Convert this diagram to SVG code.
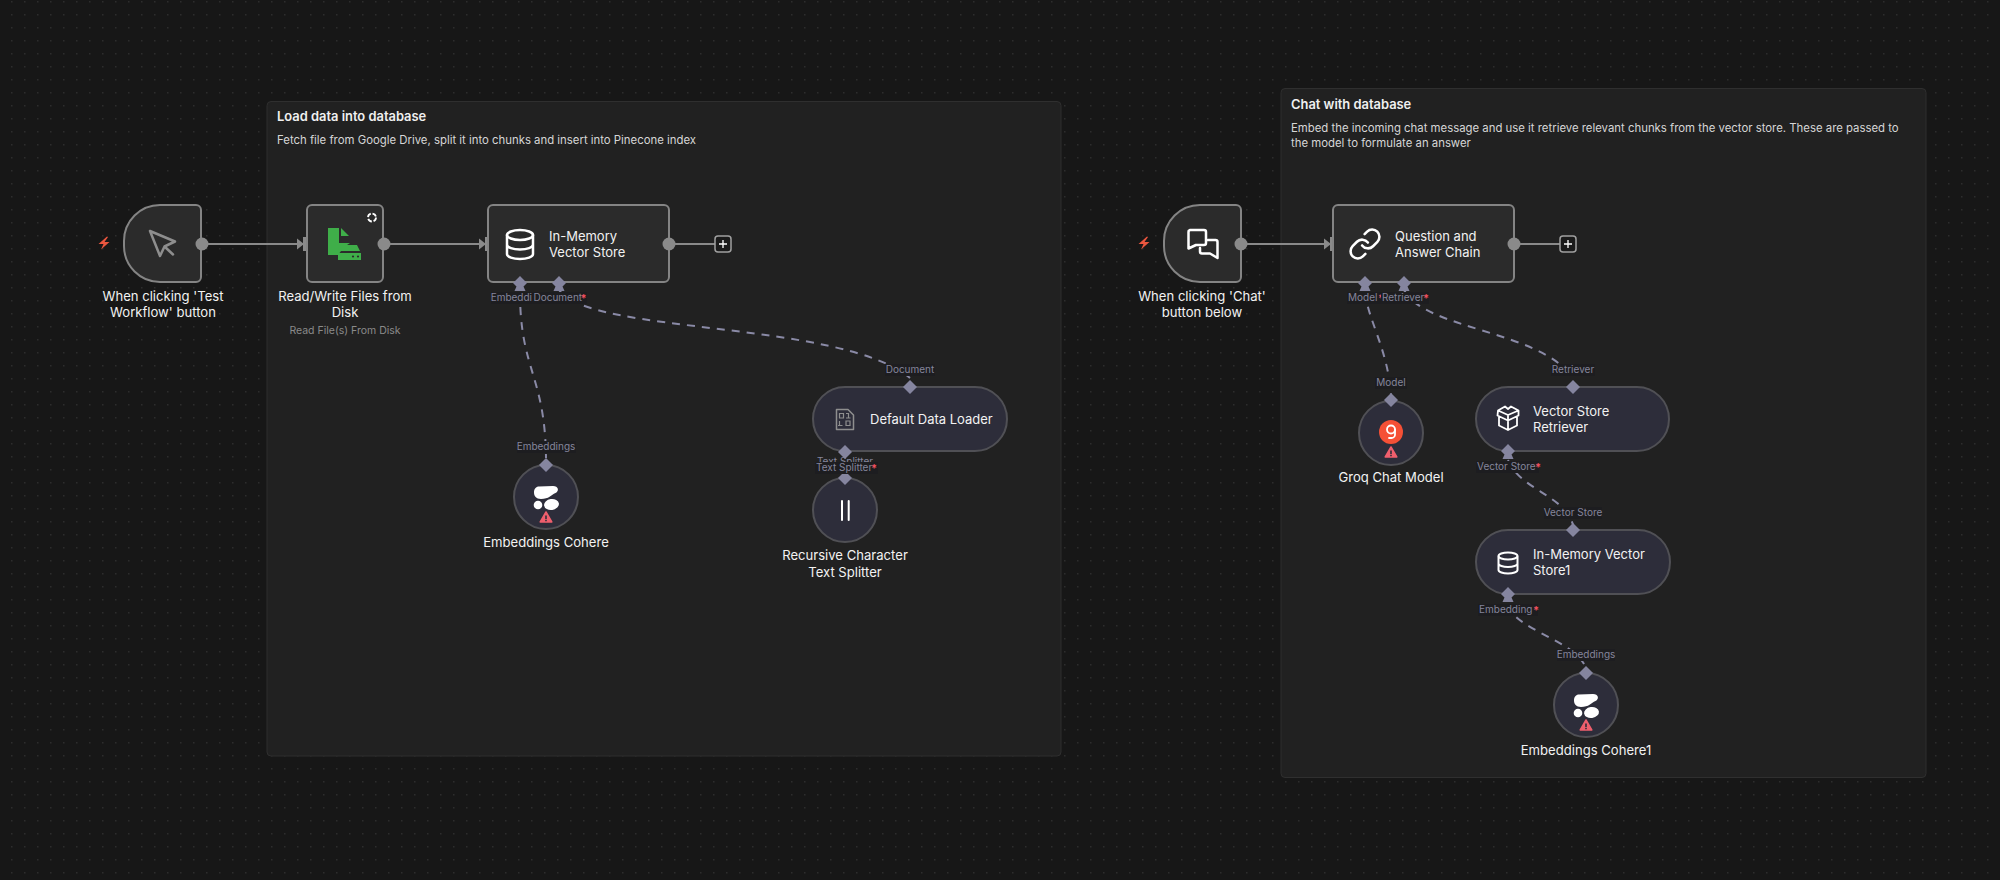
<svg xmlns="http://www.w3.org/2000/svg" width="2000" height="880" viewBox="0 0 2000 880">
<style>
text{font-family:Inter,"Noto Sans","Liberation Sans",sans-serif}
.bg{fill:#171717}
.sticky{fill:#212121;stroke:#2f2f2f;stroke-width:1}
.st{font-size:12.9px;font-weight:600;fill:#f0f0f0}
.sd{font-size:11.36px;fill:#d6d6d6}
.main{fill:#2b2b2b;stroke:#848484;stroke-width:2}
.sub{fill:#2d2d3a;stroke:#505055;stroke-width:2}
.nl{font-size:13.1px;fill:#f2f2f2;text-anchor:middle}
.ni{font-size:13px;fill:#f2f2f2}
.ns{font-size:10.5px;fill:#8a8a8a;text-anchor:middle}
.pl{font-size:10px;fill:#85859b}
.plm{font-size:10px;fill:#85859b;text-anchor:middle}
.star{font-size:11px;font-weight:700;fill:#f0505f}
.lb{fill:#1d1d20}
.flow{fill:none;stroke:#8a8a8a;stroke-width:2}
.dash{fill:none;stroke:#8a8aa6;stroke-width:2;stroke-dasharray:8 7}
.dot{fill:#8a8a8a}
.pin{fill:#8a8a8a}
.dia{fill:#85859f}
.ic{fill:none;stroke:#fff;stroke-width:2.5;stroke-linecap:round;stroke-linejoin:round}
.icg{fill:none;stroke:#8e8e8e;stroke-width:2.5;stroke-linecap:round;stroke-linejoin:round}
.bolt{fill:#e9563f}
.plusb{fill:#1a1a1a;stroke:#a0a0a0;stroke-width:1.5}
.plus{stroke:#fff;stroke-width:1.3}
</style>
<defs>
<pattern id="grid" x="11" y="1" width="13" height="13" patternUnits="userSpaceOnUse"><rect x="0" y="0" width="1.5" height="1.5" fill="#2d2d2d"/></pattern>
<path id="d" class="dia" d="M0 -7L7 0L0 7L-7 0Z"/>
<path id="db" class="dia" d="M0 -8L7 -1L3.500 2.500L5.500 7H-5.500L-3.500 2.500L-7 -1Z"/>
<path id="bolt" class="bolt" d="M3 -6.500L-5.500 1H-0.500L-3 6.500L5.500 -1H0.500L4 -6Z"/>
<g id="warn"><path fill="#ef5f6d" stroke="#ef5f6d" stroke-width="1.500" stroke-linejoin="round" d="M0 -5L5.800 5H-5.800Z"/><path stroke="#2d2d3a" stroke-width="1.600" d="M0 -1.500V2M0 2.800V4.200"/></g>
<g id="cohere"><path fill="#fff" d="M-7 -10.500L7 -11C12.500 -11 13.500 -6 9.500 -4C5 -2 3 2 -5 2C-10 2 -12 -1 -12 -4.500C-12 -8 -10 -10.500 -7 -10.500Z"/><circle cx="-8" cy="8" r="4.300" fill="#fff"/><ellipse cx="5.500" cy="7.500" rx="7.500" ry="5.500" fill="#fff" transform="rotate(-8 5.500 7.500)"/><use href="#warn" x="0" y="20"/></g>
</defs>
<rect class="bg" width="2000" height="880"/>
<rect width="2000" height="880" fill="url(#grid)"/>

<g id="sticky-load">
<rect class="sticky" x="267" y="101.500" width="794" height="654.500" rx="4"/>
<text class="st" x="277" y="121">Load data into database</text>
<text class="sd" x="277" y="144">Fetch file from Google Drive, split it into chunks and insert into Pinecone index</text>
</g>
<g id="sticky-chat">
<rect class="sticky" x="1281" y="88.500" width="645" height="689" rx="4"/>
<text class="st" x="1291" y="109">Chat with database</text>
<text class="sd" x="1291" y="132">Embed the incoming chat message and use it retrieve relevant chunks from the vector store. These are passed to</text>
<text class="sd" x="1291" y="147">the model to formulate an answer</text>
</g>

<g id="connectors">
<path class="flow" d="M202 244H298"/><path class="pin" d="M297 238.500L304 244L297 249.500ZM303 237H309.500V251H303Z"/>
<path class="flow" d="M384 244H480"/><path class="pin" d="M479 238.500L486 244L479 249.500ZM485 237H491.500V251H485Z"/>
<path class="flow" d="M669 244H715"/>
<path class="flow" d="M1241 244H1325"/><path class="pin" d="M1324 238.500L1331 244L1324 249.500ZM1330 237H1336.500V251H1330Z"/>
<path class="flow" d="M1514 244H1560"/>
<path class="dash" d="M520 292C520 370 545 375 546 458"/>
<path class="dash" d="M559 290C590 335 840 320 910 378"/>
<path class="dash" d="M1365 292C1368 320 1388 350 1391 395"/>
<path class="dash" d="M1404 290C1425 330 1540 330 1573 378"/>
<path class="dash" d="M1508 460C1520 490 1565 495 1573 525"/>
<path class="dash" d="M1508 605C1515 630 1575 640 1586 668"/>
</g>

<g id="node-trigger-test">
<path class="main" d="M160 205H196a5 5 0 0 1 5 5V277a5 5 0 0 1 -5 5H160a36 36 0 0 1 -36 -36V241a36 36 0 0 1 36 -36Z"/>
<path class="icg" d="M150 231L175 241.500L164.500 246.500L160 256ZM164.500 246.500L173 254.500"/>
<circle class="dot" cx="202" cy="244" r="6.500"/>
<use href="#bolt" x="104" y="243"/>
<text class="nl" x="163" y="301">When clicking 'Test</text>
<text class="nl" x="163" y="317">Workflow' button</text>
</g>
<g id="node-read-files">
<rect class="main" x="307" y="205" width="76" height="77" rx="5"/>
<path fill="#3fae49" d="M328 228H339V243H350L344 247L338 255H328ZM341 228L349 236H341ZM343 245H357L360 251H339ZM338 253H361V260H338Z"/>
<circle cx="353" cy="256.500" r="1.100" fill="#2b2b2b"/><circle cx="358" cy="256.500" r="1.100" fill="#2b2b2b"/>
<circle cx="372" cy="217.500" r="4" fill="none" stroke="#fff" stroke-width="1.800" stroke-dasharray="4.500 1.800"/>
<circle class="dot" cx="384" cy="244" r="6.500"/>
<text class="nl" x="345" y="301">Read/Write Files from</text>
<text class="nl" x="345" y="317">Disk</text>
<text class="ns" x="345" y="334">Read File(s) From Disk</text>
</g>
<g id="node-vector-store">
<rect class="main" x="488" y="205" width="181" height="77" rx="5"/>
<path class="ic" d="M507 235V254C507 257 513 259 520 259S533 257 533 254V235M507 244.500C507 247.500 513 249.500 520 249.500S533 247.500 533 244.500"/>
<ellipse class="ic" cx="520" cy="235" rx="13" ry="5"/>
<text class="ni" x="549" y="240.500">In-Memory</text>
<text class="ni" x="549" y="257">Vector Store</text>
<circle class="dot" cx="669" cy="244" r="6.500"/>
<rect class="plusb" x="715" y="236" width="16" height="16" rx="3"/><path class="plus" d="M723 240V248M719 244H727"/>
<use href="#db" x="520" y="284"/><use href="#db" x="559" y="284"/>
</g>
<g id="node-embeddings">
<circle class="sub" cx="546" cy="497" r="32"/>
<use href="#cohere" x="546" y="497"/>
<use href="#d" x="546" y="465"/>
<text class="nl" x="546" y="547">Embeddings Cohere</text>
</g>
<g id="node-loader">
<rect class="sub" x="813" y="387" width="194" height="64" rx="32"/>
<path fill="none" stroke="#8e8e8e" stroke-width="1.500" stroke-linejoin="round" d="M836.500 409.500H848L853.500 415V429.500H836.500Z"/>
<path fill="none" stroke="#8e8e8e" stroke-width="1.200" d="M839.500 413.500h4v4.500h-4zM846 413.500h2.500v4.500M846 418h4.500M839.500 421v4.500M838 425.500h4.500M846 421h4v4.500h-4z"/>
<text class="ni" x="870" y="424">Default Data Loader</text>
<use href="#d" x="910" y="387"/>
<use href="#d" x="845" y="452"/>
</g>
<g id="node-splitter">
<circle class="sub" cx="845" cy="510" r="32"/>
<path stroke="#fff" stroke-width="2" stroke-linecap="round" fill="none" d="M842 501V520M848.700 501V520"/>
<use href="#d" x="845" y="478"/>
<text class="nl" x="845" y="560">Recursive Character</text>
<text class="nl" x="845" y="577">Text Splitter</text>
</g>

<g id="node-trigger-chat">
<path class="main" d="M1200 205H1236a5 5 0 0 1 5 5V277a5 5 0 0 1 -5 5H1200a36 36 0 0 1 -36 -36V241a36 36 0 0 1 36 -36Z"/>
<path class="ic" d="M1190 230H1204a2 2 0 0 1 2 2V243a2 2 0 0 1 -2 2H1196L1188.500 248.500V232a2 2 0 0 1 2 -2ZM1208 240H1215.500a2 2 0 0 1 2 2V258L1210 253.500H1202a2 2 0 0 1 -2 -2V248"/>
<circle class="dot" cx="1241" cy="244" r="6.500"/>
<use href="#bolt" x="1144" y="243"/>
<text class="nl" x="1202" y="301">When clicking 'Chat'</text>
<text class="nl" x="1202" y="317">button below</text>
</g>
<g id="node-qa-chain">
<rect class="main" x="1333" y="205" width="181" height="77" rx="5"/>
<g transform="translate(1347.600 226.600) scale(1.450)"><path fill="none" stroke="#fff" stroke-width="1.750" stroke-linecap="round" stroke-linejoin="round" d="M10 13a5 5 0 0 0 7.540.54l3-3a5 5 0 0 0-7.070-7.070l-1.720 1.710M14 11a5 5 0 0 0-7.540-.54l-3 3a5 5 0 0 0 7.070 7.070l1.710-1.710"/></g>
<text class="ni" x="1395" y="240.500">Question and</text>
<text class="ni" x="1395" y="257">Answer Chain</text>
<circle class="dot" cx="1514" cy="244" r="6.500"/>
<rect class="plusb" x="1560" y="236" width="16" height="16" rx="3"/><path class="plus" d="M1568 240V248M1564 244H1572"/>
<use href="#db" x="1365" y="284"/><use href="#db" x="1404" y="284"/>
</g>
<g id="node-groq">
<circle class="sub" cx="1391" cy="433" r="32"/>
<circle cx="1391" cy="432" r="12" fill="#f55036"/>
<circle cx="1391" cy="429.500" r="4" fill="none" stroke="#fff" stroke-width="1.800"/>
<path fill="none" stroke="#fff" stroke-width="1.800" stroke-linecap="round" d="M1395 429.500V434.500a3.500 3.500 0 0 1 -3.500 3.500H1389"/>
<use href="#warn" x="1391" y="452"/>
<use href="#d" x="1391" y="400"/>
<text class="nl" x="1391" y="482">Groq Chat Model</text>
</g>
<g id="node-retriever">
<rect class="sub" x="1476" y="387" width="193" height="64" rx="32"/>
<path fill="none" stroke="#fff" stroke-width="1.800" stroke-linejoin="round" d="M1508 415L1498 410.500L1505 406.500L1508 409L1511 406.500L1518.500 410.500ZM1498 410.500L1497.500 415.500L1508 420.500L1518.500 415.500L1518.500 410.500M1508 415V420.500M1499 417V425.500L1508 430L1517 425.500V417M1508 420.500V430"/>
<text class="ni" x="1533" y="416">Vector Store</text>
<text class="ni" x="1533" y="432">Retriever</text>
<use href="#d" x="1573" y="387"/>
<use href="#db" x="1508" y="452"/>
</g>
<g id="node-memory1">
<rect class="sub" x="1476" y="530" width="194" height="64" rx="32"/>
<path fill="none" stroke="#fff" stroke-width="2" stroke-linecap="round" d="M1498.500 557V570C1498.500 572 1503 573.500 1508 573.500S1517.500 572 1517.500 570V557M1498.500 563.500C1498.500 565.500 1503 567 1508 567S1517.500 565.500 1517.500 563.500"/>
<ellipse cx="1508" cy="556" rx="9.500" ry="3.500" fill="none" stroke="#fff" stroke-width="2"/>
<text class="ni" x="1533" y="559">In-Memory Vector</text>
<text class="ni" x="1533" y="575">Store1</text>
<use href="#d" x="1573" y="530"/>
<use href="#db" x="1508" y="595"/>
</g>
<g id="node-embeddings1">
<circle class="sub" cx="1586" cy="705" r="32"/>
<use href="#cohere" x="1586" y="705"/>
<use href="#d" x="1586" y="673"/>
<text class="nl" x="1586" y="755">Embeddings Cohere1</text>
</g>

<g id="port-labels">
<rect class="lb" x="491" y="292" width="42" height="12"/>
<text class="plm" x="520" y="301">Embeddings</text>
<rect class="lb" x="532" y="292" width="55" height="12"/>
<text class="pl" x="533.500" y="301">Document</text><text class="star" x="580.500" y="302">*</text>
<rect class="lb" x="517" y="441" width="59" height="12"/>
<text class="plm" x="546" y="450">Embeddings</text>
<rect class="lb" x="885" y="364" width="50" height="12"/>
<text class="plm" x="910" y="373">Document</text>
<text class="plm" x="845" y="465">Text Splitter</text>
<rect class="lb" x="815" y="462" width="63" height="12"/>
<text class="pl" x="816" y="470.500">Text Splitter</text><text class="star" x="871" y="471.500">*</text>
<rect class="lb" x="1347" y="292" width="35" height="12"/>
<text class="pl" x="1348" y="301">Model</text><text class="star" x="1378" y="302">*</text>
<rect class="lb" x="1381" y="292" width="48" height="12"/>
<text class="pl" x="1382" y="301">Retriever</text><text class="star" x="1423" y="302">*</text>
<rect class="lb" x="1375" y="377" width="32" height="12"/>
<text class="plm" x="1391" y="386">Model</text>
<rect class="lb" x="1551" y="364" width="44" height="12"/>
<text class="plm" x="1573" y="373">Retriever</text>
<rect class="lb" x="1476" y="461" width="63" height="12"/>
<text class="pl" x="1477" y="470">Vector Store</text><text class="star" x="1535" y="471">*</text>
<rect class="lb" x="1544" y="507" width="58" height="12"/>
<text class="plm" x="1573" y="516">Vector Store</text>
<rect class="lb" x="1478" y="604" width="60" height="12"/>
<text class="pl" x="1479" y="613">Embedding</text><text class="star" x="1533" y="614">*</text>
<rect class="lb" x="1557" y="649" width="58" height="12"/>
<text class="plm" x="1586" y="658">Embeddings</text>
</g>
</svg>
